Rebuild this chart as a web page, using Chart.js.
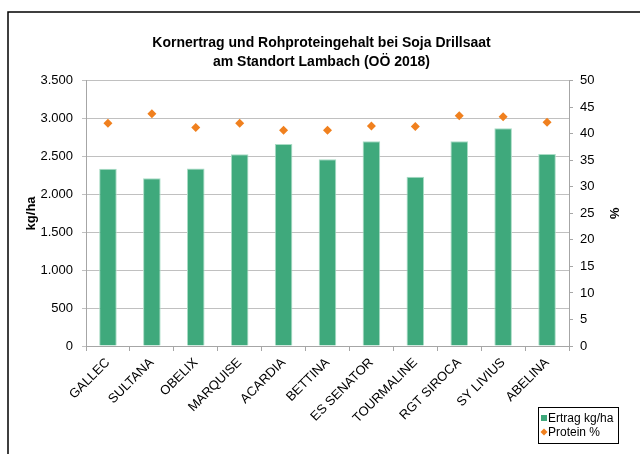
<!DOCTYPE html>
<html>
<head>
<meta charset="utf-8">
<script src="https://cdn.jsdelivr.net/npm/chart.js@4"></script>
<style>
  html, body { margin: 0; padding: 0; background: #fff; }
  #wrap { width: 640px; height: 454px; }
</style>
</head>
<body>
<div id="wrap"><canvas id="chart" width="640" height="454"></canvas></div>
<script>
// Sorten
const categories = ['GALLEC', 'SULTANA', 'OBELIX', 'MARQUISE', 'ACARDIA', 'BETTINA',
                    'ES SENATOR', 'TOURMALINE', 'RGT SIROCA', 'SY LIVIUS', 'ABELINA'];
// Ertrag kg/ha
const ertrag = [2338, 2215, 2342, 2530, 2667, 2465, 2702, 2233, 2702, 2873, 2535];
// Rohprotein %
const protein = [42.0, 43.8, 41.2, 42.0, 40.7, 40.7, 41.5, 41.4, 43.4, 43.2, 42.2];
// Achsen
const yTicks = [0, 500, 1000, 1500, 2000, 2500, 3000, 3500];
const y1Ticks = [0, 5, 10, 15, 20, 25, 30, 35, 40, 45, 50];

const font = 'Liberation Sans, Arial, sans-serif';
const green = '#3FA97C';
const orange = '#F0801E';

// format 3500 -> 3.500
function fmt(v) {
    return v.toString().replace(/\B(?=(\d{3})+(?!\d))/g, '.');
}

// Rahmen links/oben wie im Excel-Diagramm
const framePlugin = {
    id: 'frame',
    beforeDraw(chart) {
        const ctx = chart.ctx;
        ctx.save();
        ctx.fillStyle = '#fff';
        ctx.fillRect(0, 0, chart.width, chart.height);
        ctx.strokeStyle = '#000';
        ctx.lineWidth = 1.5;
        ctx.beginPath();
        ctx.moveTo(8, chart.height);
        ctx.lineTo(8, 12);
        ctx.lineTo(chart.width, 12);
        ctx.stroke();
        ctx.restore();
    }
};

// Legende mit Rahmen unten rechts
const legendBox = {
    id: 'legendBox',
    afterDraw(chart) {
        const ctx = chart.ctx;
        const x = 538, y = 407, w = 80, h = 36;
        const bars = chart.data.datasets.find(d => d.type === 'bar');
        const pts = chart.data.datasets.find(d => d.type === 'scatter');
        ctx.save();
        ctx.fillStyle = '#fff';
        ctx.fillRect(x, y, w, h);
        ctx.strokeStyle = '#000';
        ctx.lineWidth = 1;
        ctx.strokeRect(x + 0.5, y + 0.5, w, h);
        ctx.font = '12px ' + font;
        ctx.textBaseline = 'middle';
        ctx.textAlign = 'left';
        // Ertrag
        ctx.fillStyle = bars.backgroundColor;
        ctx.fillRect(x + 3, y + 8, 6, 6);
        ctx.fillStyle = '#000';
        ctx.fillText(bars.label, x + 10, y + 11.5);
        // Protein
        const cx = x + 6, cy = y + 25;
        ctx.fillStyle = pts.backgroundColor;
        ctx.beginPath();
        ctx.moveTo(cx, cy - 3.5);
        ctx.lineTo(cx + 3.5, cy);
        ctx.lineTo(cx, cy + 3.5);
        ctx.lineTo(cx - 3.5, cy);
        ctx.closePath();
        ctx.fill();
        ctx.fillStyle = '#000';
        ctx.fillText(pts.label, x + 10, y + 25.5);
        ctx.restore();
    }
};

new Chart(document.getElementById('chart'), {
    data: {
        labels: categories,
        datasets: [
            {
                type: 'scatter',
                label: 'Protein %',
                data: protein,
                yAxisID: 'y1',
                backgroundColor: orange,
                borderColor: orange,
                pointStyle: 'rectRot',
                pointRadius: 4.5,
                borderWidth: 0,
                showLine: false,
                order: 0
            },
            {
                type: 'bar',
                label: 'Ertrag kg/ha',
                data: ertrag,
                yAxisID: 'y',
                backgroundColor: green,
                borderColor: '#A9DCC5',
                borderWidth: 1,
                barPercentage: 0.4,
                categoryPercentage: 1.0,
                order: 1
            }
        ]
    },
    options: {
        responsive: false,
        animation: false,
        layout: {
            padding: { left: 22, right: 19, top: 0, bottom: 0 }
        },
        plugins: {
            legend: { display: false },
            tooltip: { enabled: false },
            title: {
                display: true,
                text: ['Kornertrag und Rohproteingehalt bei Soja Drillsaat',
                       'am Standort Lambach (OÖ 2018)'],
                color: '#000',
                font: { family: font, size: 14, weight: 'bold', lineHeight: 1.35 },
                padding: { top: 34, bottom: 9 }
            }
        },
        scales: {
            x: {
                type: 'category',
                offset: true,
                border: { color: '#A6A6A6', width: 1 },
                grid: {
                    display: true,
                    offset: true,
                    drawOnChartArea: false,
                    color: '#A6A6A6',
                    tickLength: 5
                },
                ticks: {
                    color: '#000',
                    font: { family: font, size: 13 },
                    minRotation: 45,
                    maxRotation: 45,
                    autoSkip: false,
                    padding: 4
                },
                afterFit(scale) { scale.height = 108; }
            },
            y: {
                position: 'left',
                min: 0,
                max: 3500,
                afterBuildTicks(scale) { scale.ticks = yTicks.map(v => ({ value: v })); },
                border: { color: '#A6A6A6', width: 1 },
                grid: { color: '#C0C0C0', tickLength: 4 },
                ticks: {
                    color: '#000',
                    font: { family: font, size: 13 },
                    padding: 9,
                    callback: v => fmt(v)
                },
                title: {
                    display: true,
                    text: 'kg/ha',
                    color: '#000',
                    font: { family: font, size: 13, weight: 'bold' },
                    padding: { top: 2, bottom: 0 }
                },
                afterFit(scale) { scale.width = 64; }
            },
            y1: {
                position: 'right',
                min: 0,
                max: 50,
                afterBuildTicks(scale) { scale.ticks = y1Ticks.map(v => ({ value: v })); },
                border: { color: '#A6A6A6', width: 1 },
                grid: { drawOnChartArea: false, color: '#A6A6A6', tickLength: 4 },
                ticks: {
                    color: '#000',
                    font: { family: font, size: 13 },
                    padding: 7
                },
                title: {
                    display: true,
                    text: '%',
                    color: '#000',
                    font: { family: font, size: 13, weight: 'bold' },
                    padding: 0
                },
                afterFit(scale) { scale.width = 52; }
            }
        }
    },
    plugins: [framePlugin, legendBox]
});
</script>
</body>
</html>
